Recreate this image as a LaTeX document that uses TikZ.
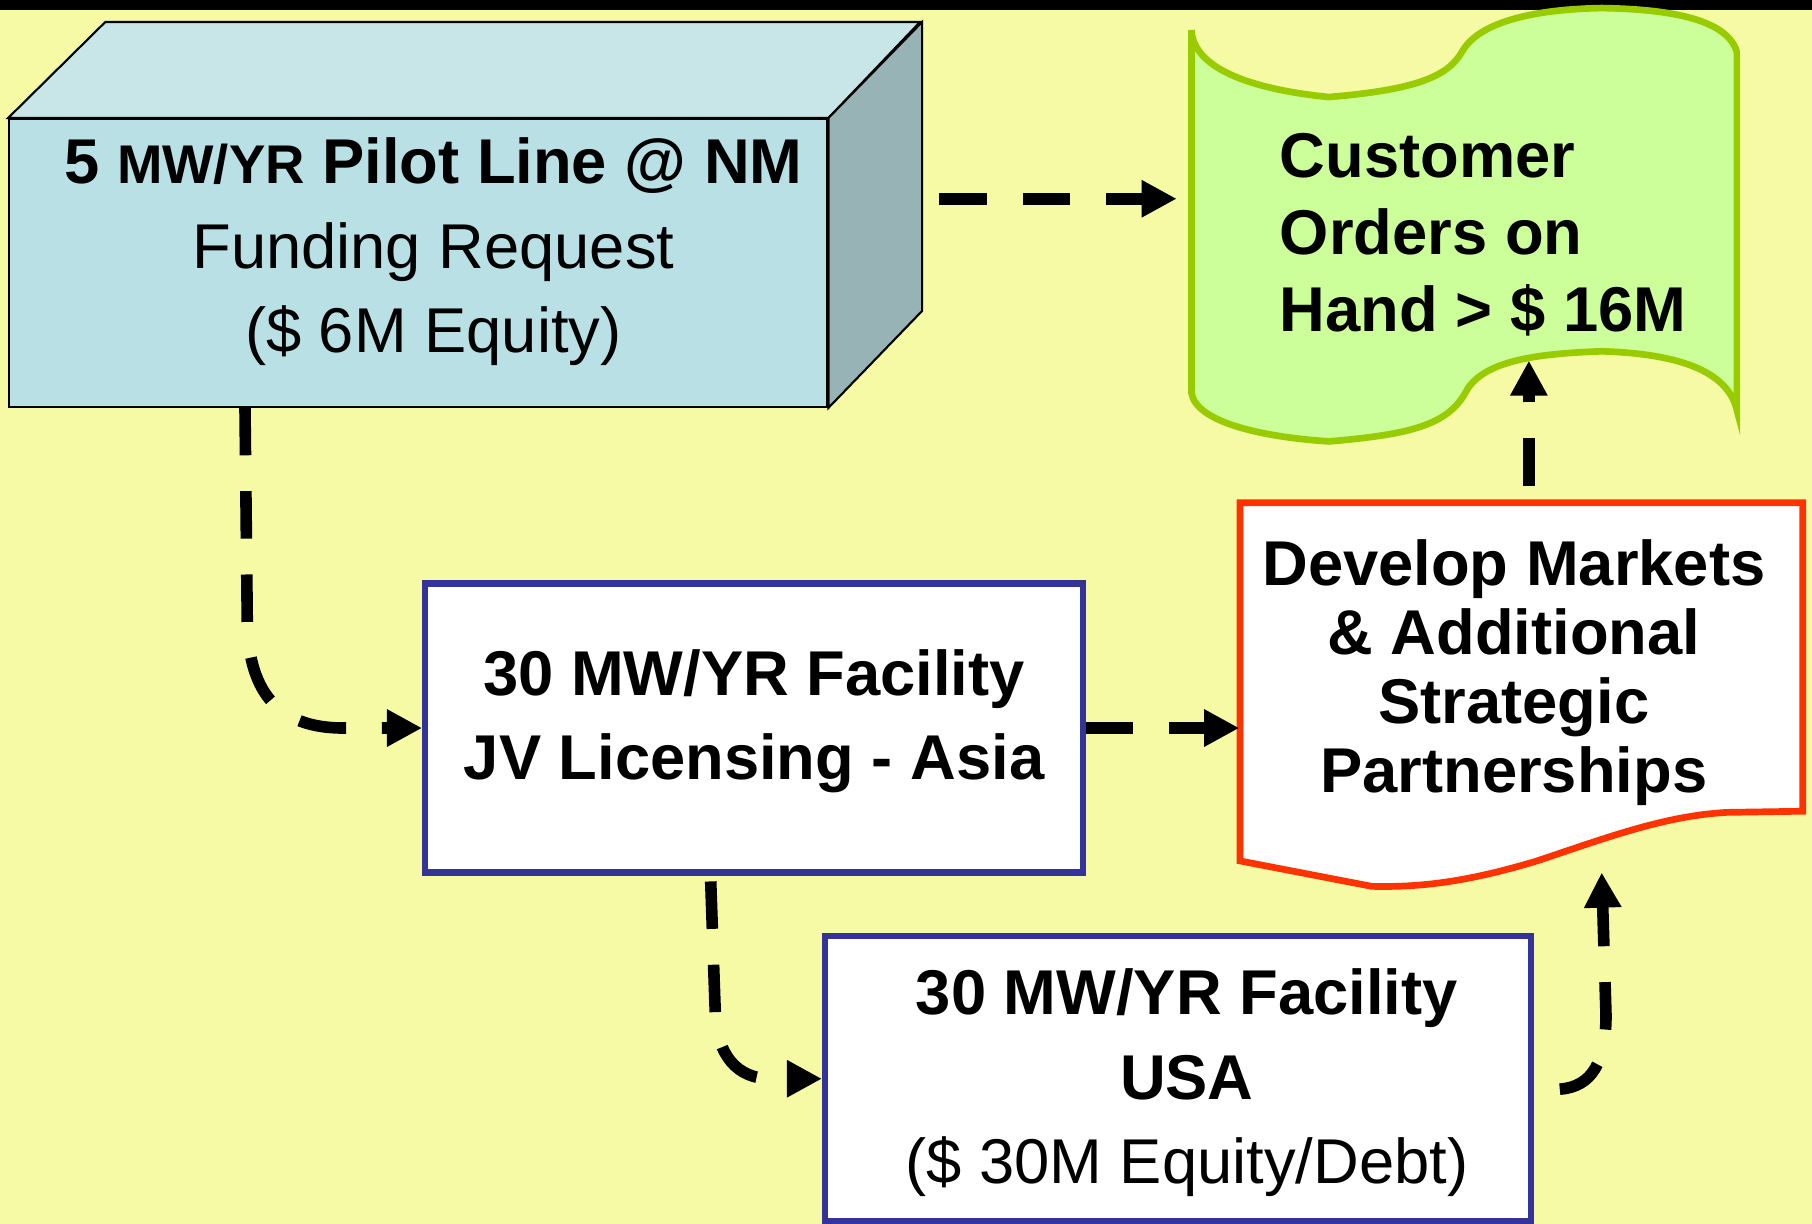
\documentclass[tikz,border=0pt]{standalone}
\usepackage{fontspec}
\setmainfont{Liberation Sans}
\usetikzlibrary{arrows.meta,calc,fit}
\definecolor{bg}{RGB}{246,250,165}
\definecolor{cubefront}{RGB}{185,224,228}
\definecolor{cubetop}{RGB}{200,230,232}
\definecolor{cubeside}{RGB}{151,179,182}
\definecolor{tapefill}{RGB}{204,255,153}
\definecolor{tapeline}{RGB}{153,204,0}
\definecolor{docline}{RGB}{255,51,0}
\definecolor{boxline}{RGB}{51,51,153}
\begin{document}
\begin{tikzpicture}[x=0.011556cm,y=-0.011556cm,
  conn/.style={line width=3.3pt, dash pattern=on 13.5pt off 10.2pt, -{Triangle[length=10pt,width=10pt]}},
  txt/.style={inner sep=0pt, align=center, font=\fontsize{18}{24}\selectfont},
  frame/.style={inner sep=0pt, line width=1.8pt, draw=boxline, fill=white},
  ghost/.style={inner sep=0pt, draw=none}]
\useasboundingbox (0,0) rectangle (1568,1059);
\fill[bg] (0,0) rectangle (1568,1059);
\fill[black] (0,0) rectangle (1568,9);

% cube
\node[fit={(8,103) (716,352)}, inner sep=0pt, draw=black, line width=0.6pt, fill=cubefront] (cube) {};
\draw[fill=cubetop, line width=0.6pt] (cube.north west) -- ++(84,-83) -- ++(705,0) -- (cube.north east) -- cycle;
\draw[fill=cubeside, line width=0.6pt] (cube.north east) -- ++(81,-83) -- ++(0,250) -- (cube.south east) -- cycle;
\node[txt] (cubetxt) at (375,218) {\textbf{5 {\fontsize{15.5}{24}\selectfont MW/YR} Pilot Line @ NM}\\Funding Request\\(\$ 6M Equity)};

% customer orders (punched tape)
\node[ghost, fit={(1031,7) (1503,382)}] (custshape) {};
\draw[tapeline, line width=1.9pt, fill=tapefill]
  (1031,26) .. controls (1033,62) and (1090,78) .. (1150,84)
  .. controls (1220,78) and (1252,68) .. (1265,45)
  .. controls (1280,18) and (1330,8) .. (1386,7)
  .. controls (1450,8) and (1495,18) .. (1503,45)
  -- (1503,355)
  .. controls (1495,320) and (1450,306) .. (1386,304)
  .. controls (1330,306) and (1282,312) .. (1268,340)
  .. controls (1252,368) and (1220,376) .. (1150,382)
  .. controls (1090,378) and (1035,365) .. (1031,340) -- cycle;
\node[txt, align=left, anchor=west, font=\fontsize{18}{21.9}\selectfont\bfseries] (cust) at (1107,203.5) {Customer\\Orders on\\Hand > \$ 16M};
\coordinate (custbot) at (1323,312);

% develop markets (document)
\node[ghost, fit={(1073,435) (1560,745)}] (dev) {};
\draw[docline, line width=1.9pt, fill=white]
  (1073,435) -- (1560,435) -- (1560,702) -- (1494,703)
  .. controls (1440,706) and (1390,725) .. (1330,745)
  .. controls (1270,763) and (1230,768) .. (1187,767)
  -- (1073,745) -- cycle;
\node[txt, font=\fontsize{18}{19.7}\selectfont\bfseries] (devtxt) at (1310,582) {Develop Markets\\\& Additional\\Strategic\\Partnerships};
\coordinate (devbot) at (1386,755);

% JV box
\node[frame, fit={(368,505) (937,755)}] (jv) {};
\node[txt, font=\fontsize{18}{24}\selectfont\bfseries] (jvtxt) at (652.5,624) {30 MW/YR Facility\\JV Licensing - Asia};

% USA box
\node[frame, fit={(714,810) (1325,1057)}] (usa) {};
\node[txt] (usatxt) at (1027,937) {\textbf{30 MW/YR Facility}\\\textbf{USA}\\(\$ 30M Equity/Debt)};

% connectors
\draw[conn, shorten >=4pt] ($(cube.east)+(96,-55.5)$) -- (custshape.west |- {$(cube.east)+(0,-55.5)$});
\draw[conn] ($(cube.south)+(-150,0)$) -- ++(2,188) .. controls +(2,60) and +(-55,0) .. ($(jv.west)+(-68,0)$) -- (jv.west);
\draw[conn] (jv.east) -- (jv.east -| dev.west);
\draw[conn] ($(dev.north)+(6.5,-14)$) -- (custbot);
\draw[conn] ($(jv.south)+(-37.5,5)$) -- ++(4,115) .. controls +(2,35) and +(-30,0) .. ($(usa.west)+(-44,0)$) -- (usa.west);
\draw[conn] ($(usa.east)+(22,9)$) .. controls +(28,-2) and +(0,40) .. ($(usa.east)+(62,-55)$) -- (devbot);
\end{tikzpicture}
\end{document}
